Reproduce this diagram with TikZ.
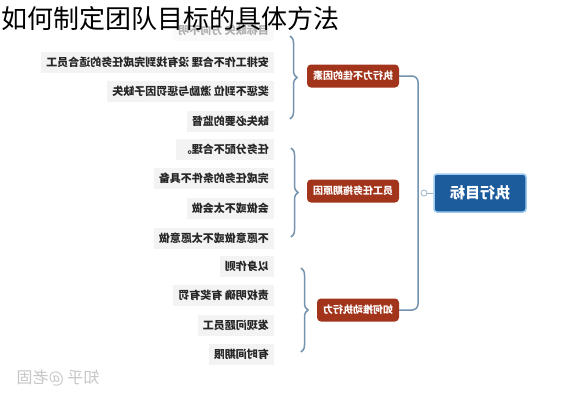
\documentclass[tikz,border=0pt]{standalone}
\usepackage{fontspec}
\setmainfont{Noto Sans CJK SC}
\usepackage{graphicx}
\usetikzlibrary{decorations.pathreplacing}

\definecolor{bracecol}{HTML}{7393AE}
\definecolor{labelred}{HTML}{A2341B}
\definecolor{rootblue}{HTML}{1D5C9C}
\definecolor{rootedge}{HTML}{9CCBEF}
\definecolor{itembg}{HTML}{F3F3F3}

% the whole chart is printed mirrored
\newcommand{\mir}[1]{\reflectbox{#1}}

\tikzset{
    item/.style={anchor=east, fill=itembg, text=black!85, inner xsep=5pt, inner ysep=3pt,
        minimum height=21, font=\bfseries\fontsize{11}{13}\selectfont},
    reason/.style={fill=labelred, text=white, rounded corners=4pt, minimum height=23,
        inner xsep=6pt, font=\bfseries\fontsize{10}{12}\selectfont},
    curly/.style={decorate, decoration={brace, amplitude=7pt}, draw=bracecol, line width=1.5pt},
    bus/.style={draw=bracecol, line width=1.5pt, rounded corners=6pt},
}

\begin{document}
\begin{tikzpicture}[x=1pt,y=-1pt]

        \useasboundingbox[fill=white] (0,0) rectangle (563,400);

        % right edge of the item column and x of the bus line
        \def\xItem{274}
        \def\xBus{418}

        % first group (its top item lies under the title)
        \node[item, opacity=0.35] (a1) at (\xItem,30) {\mir{目标缺失 方向不明}};
        \node[item] (a2) at (\xItem,62) {\mir{安排工作不合理 没有找到完成任务的适合员工}};
        \node[item] (a3) at (\xItem,91) {\mir{奖惩不到位 激励与惩罚因子缺失}};
        \node[item] (a4) at (\xItem,121) {\mir{缺失必要的监督}};

        % second group
        \node[item] (b1) at (\xItem,149) {\mir{任务分配不合理。}};
        \node[item] (b2) at (\xItem,178) {\mir{完成任务的条件不具备}};
        \node[item] (b3) at (\xItem,208) {\mir{会做或不太会做}};
        \node[item] (b4) at (\xItem,238) {\mir{不愿意做或不太愿意做}};

        % third group
        \node[item] (c1) at (\xItem,266) {\mir{以身作则}};
        \node[item] (c2) at (\xItem,295) {\mir{责权明确 有奖有罚}};
        \node[item] (c3) at (\xItem,325) {\mir{发现问题员工}};
        \node[item] (c4) at (\xItem,354) {\mir{有时间期限}};

        % title
        \node[anchor=west, inner sep=0pt, font=\fontsize{26}{29}\selectfont] (title) at (1,19) {如何制定团队目标的具体方法};

        % braces
        \draw[curly] (290,36) -- (290,119);
        \draw[curly] (291,148) -- (291,237);
        \draw[curly] (301,268) -- (301,352);

        % group labels
        \node[reason] (lab1) at (353,76) {\mir{执行力不佳的因素}};
        \node[reason] (lab2) at (353,191) {\mir{员工任务拖期原因}};
        \node[reason] (lab3) at (358,310) {\mir{如何推动执行力}};

        % root
        \node[fill=rootblue, draw=rootedge, line width=1.5pt, rounded corners=3pt, text=white,
            minimum width=92, minimum height=38, font=\bfseries\fontsize{15}{18}\selectfont] (root) at (480,193) {\mir{执行目标}};

        % bus from the labels to the root
        \draw[bus] (lab1.east) -- (\xBus,76) -- (\xBus,310) -- (lab3.east);
        \node[circle, draw=bracecol!70, fill=white, line width=0.8pt, inner sep=0pt, minimum size=6] (knob) at (\xBus+6,193) {};
        \draw[draw=bracecol!70, line width=0.8pt] (knob) -- (root.west);

        % watermark
        \node[text=black!22, font=\fontsize{16}{18}\selectfont] (mark) at (58,378) {\mir{知乎 @老固}};

    \end{tikzpicture}
\end{document}
